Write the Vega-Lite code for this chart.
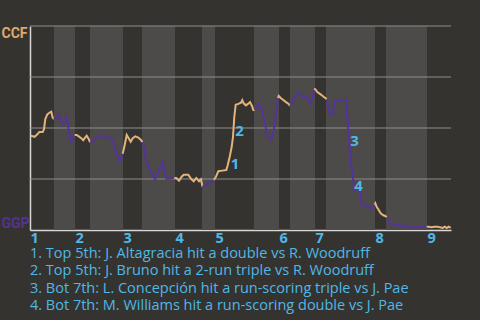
{
  "$schema": "https://vega.github.io/schema/vega-lite/v6.json",
  "width": 421,
  "height": 204,
  "autosize": {"type": "none"},
  "padding": {"left": 30, "top": 26, "right": 29, "bottom": 90},
  "background": "#353330",
  "config": {"view": {"stroke": null}, "font": "Open Sans"},
  "title": {
    "text": [
      "1. Top 5th: J. Altagracia hit a double vs R. Woodruff",
      "2. Top 5th: J. Bruno hit a 2-run triple vs R. Woodruff",
      "3. Bot 7th: L. Concepción hit a run-scoring triple vs J. Pae",
      "4. Bot 7th: M. Williams hit a run-scoring double vs J. Pae"
    ],
    "orient": "bottom",
    "anchor": "start",
    "frame": "group",
    "fontSize": 14.5,
    "fontWeight": "normal",
    "font": "Open Sans",
    "color": "#4fb8e8",
    "lineHeight": 17.6,
    "offset": 2
  },
  "datasets": {
    "bands": [
      {"half": "B1", "start": 24, "end": 45},
      {"half": "B2", "start": 60, "end": 93},
      {"half": "B3", "start": 112, "end": 145},
      {"half": "B4", "start": 172, "end": 185},
      {"half": "B5", "start": 224, "end": 249},
      {"half": "B6", "start": 260, "end": 285},
      {"half": "B7", "start": 296, "end": 345},
      {"half": "B8", "start": 356, "end": 397}
    ],
    "grid": [{"v": 0.25}, {"v": 0.5}, {"v": 0.75}, {"v": 1}],
    "events": [
      {"label": "1", "t": 199.7, "wp": 0.324},
      {"label": "2", "t": 204.3, "wp": 0.483},
      {"label": "3", "t": 319.3, "wp": 0.436},
      {"label": "4", "t": 323.3, "wp": 0.217}
    ],
    "wp": [
      {"half": "T1", "team": "CCF", "t": 0.7, "wp": 0.462},
      {"half": "T1", "team": "CCF", "t": 4.7, "wp": 0.457},
      {"half": "T1", "team": "CCF", "t": 7.3, "wp": 0.469},
      {"half": "T1", "team": "CCF", "t": 9.3, "wp": 0.48},
      {"half": "T1", "team": "CCF", "t": 12.7, "wp": 0.48},
      {"half": "T1", "team": "CCF", "t": 14, "wp": 0.494},
      {"half": "T1", "team": "CCF", "t": 15.3, "wp": 0.544},
      {"half": "T1", "team": "CCF", "t": 17.3, "wp": 0.567},
      {"half": "T1", "team": "CCF", "t": 20, "wp": 0.577},
      {"half": "T1", "team": "CCF", "t": 21.3, "wp": 0.58},
      {"half": "T1", "team": "CCF", "t": 22.7, "wp": 0.55},
      {"half": "T1", "team": "CCF", "t": 24, "wp": 0.544},
      {"half": "B1", "team": "GGP", "t": 24, "wp": 0.544},
      {"half": "B1", "team": "GGP", "t": 26, "wp": 0.554},
      {"half": "B1", "team": "GGP", "t": 28.7, "wp": 0.564},
      {"half": "B1", "team": "GGP", "t": 30.7, "wp": 0.538},
      {"half": "B1", "team": "GGP", "t": 32.7, "wp": 0.521},
      {"half": "B1", "team": "GGP", "t": 34.7, "wp": 0.531},
      {"half": "B1", "team": "GGP", "t": 36.7, "wp": 0.554},
      {"half": "B1", "team": "GGP", "t": 38, "wp": 0.515},
      {"half": "B1", "team": "GGP", "t": 39.3, "wp": 0.469},
      {"half": "B1", "team": "GGP", "t": 40.7, "wp": 0.436},
      {"half": "B1", "team": "GGP", "t": 42.7, "wp": 0.45},
      {"half": "B1", "team": "GGP", "t": 44.7, "wp": 0.466},
      {"half": "T2", "team": "CCF", "t": 44.7, "wp": 0.466},
      {"half": "T2", "team": "CCF", "t": 46.7, "wp": 0.466},
      {"half": "T2", "team": "CCF", "t": 48.7, "wp": 0.459},
      {"half": "T2", "team": "CCF", "t": 51.3, "wp": 0.45},
      {"half": "T2", "team": "CCF", "t": 53.3, "wp": 0.44},
      {"half": "T2", "team": "CCF", "t": 54.7, "wp": 0.45},
      {"half": "T2", "team": "CCF", "t": 56.7, "wp": 0.462},
      {"half": "T2", "team": "CCF", "t": 58.7, "wp": 0.446},
      {"half": "T2", "team": "CCF", "t": 60, "wp": 0.43},
      {"half": "B2", "team": "GGP", "t": 60, "wp": 0.43},
      {"half": "B2", "team": "GGP", "t": 62, "wp": 0.433},
      {"half": "B2", "team": "GGP", "t": 64.7, "wp": 0.446},
      {"half": "B2", "team": "GGP", "t": 67.3, "wp": 0.456},
      {"half": "B2", "team": "GGP", "t": 70, "wp": 0.466},
      {"half": "B2", "team": "GGP", "t": 73.3, "wp": 0.456},
      {"half": "B2", "team": "GGP", "t": 76.7, "wp": 0.452},
      {"half": "B2", "team": "GGP", "t": 80.7, "wp": 0.452},
      {"half": "B2", "team": "GGP", "t": 82.7, "wp": 0.436},
      {"half": "B2", "team": "GGP", "t": 84.7, "wp": 0.407},
      {"half": "B2", "team": "GGP", "t": 86.7, "wp": 0.377},
      {"half": "B2", "team": "GGP", "t": 88.7, "wp": 0.338},
      {"half": "B2", "team": "GGP", "t": 90.7, "wp": 0.351},
      {"half": "B2", "team": "GGP", "t": 92.7, "wp": 0.374},
      {"half": "T3", "team": "CCF", "t": 92.7, "wp": 0.374},
      {"half": "T3", "team": "CCF", "t": 94.7, "wp": 0.417},
      {"half": "T3", "team": "CCF", "t": 96.7, "wp": 0.466},
      {"half": "T3", "team": "CCF", "t": 98.7, "wp": 0.45},
      {"half": "T3", "team": "CCF", "t": 100.7, "wp": 0.433},
      {"half": "T3", "team": "CCF", "t": 102.7, "wp": 0.45},
      {"half": "T3", "team": "CCF", "t": 105.3, "wp": 0.459},
      {"half": "T3", "team": "CCF", "t": 108.3, "wp": 0.453},
      {"half": "T3", "team": "CCF", "t": 111, "wp": 0.441},
      {"half": "T3", "team": "CCF", "t": 112.5, "wp": 0.431},
      {"half": "B3", "team": "GGP", "t": 112.5, "wp": 0.431},
      {"half": "B3", "team": "GGP", "t": 113.7, "wp": 0.408},
      {"half": "B3", "team": "GGP", "t": 115.7, "wp": 0.353},
      {"half": "B3", "team": "GGP", "t": 117.7, "wp": 0.317},
      {"half": "B3", "team": "GGP", "t": 120.3, "wp": 0.294},
      {"half": "B3", "team": "GGP", "t": 123, "wp": 0.268},
      {"half": "B3", "team": "GGP", "t": 125, "wp": 0.249},
      {"half": "B3", "team": "GGP", "t": 127.7, "wp": 0.278},
      {"half": "B3", "team": "GGP", "t": 130.3, "wp": 0.307},
      {"half": "B3", "team": "GGP", "t": 133, "wp": 0.333},
      {"half": "B3", "team": "GGP", "t": 134.3, "wp": 0.294},
      {"half": "B3", "team": "GGP", "t": 136.3, "wp": 0.251},
      {"half": "B3", "team": "GGP", "t": 139.7, "wp": 0.251},
      {"half": "B3", "team": "GGP", "t": 144.3, "wp": 0.255},
      {"half": "T4", "team": "CCF", "t": 144.3, "wp": 0.255},
      {"half": "T4", "team": "CCF", "t": 146.3, "wp": 0.255},
      {"half": "T4", "team": "CCF", "t": 149, "wp": 0.242},
      {"half": "T4", "team": "CCF", "t": 151.7, "wp": 0.261},
      {"half": "T4", "team": "CCF", "t": 153.7, "wp": 0.271},
      {"half": "T4", "team": "CCF", "t": 158.3, "wp": 0.271},
      {"half": "T4", "team": "CCF", "t": 161, "wp": 0.251},
      {"half": "T4", "team": "CCF", "t": 163.7, "wp": 0.239},
      {"half": "T4", "team": "CCF", "t": 166.3, "wp": 0.255},
      {"half": "T4", "team": "CCF", "t": 169, "wp": 0.239},
      {"half": "T4", "team": "CCF", "t": 171, "wp": 0.249},
      {"half": "T4", "team": "CCF", "t": 172.5, "wp": 0.212},
      {"half": "B4", "team": "GGP", "t": 172.5, "wp": 0.212},
      {"half": "B4", "team": "GGP", "t": 176.3, "wp": 0.222},
      {"half": "B4", "team": "GGP", "t": 179.7, "wp": 0.232},
      {"half": "B4", "team": "GGP", "t": 183.7, "wp": 0.245},
      {"half": "T5", "team": "CCF", "t": 183.7, "wp": 0.245},
      {"half": "T5", "team": "CCF", "t": 185.7, "wp": 0.258},
      {"half": "T5", "team": "CCF", "t": 188.3, "wp": 0.288},
      {"half": "T5", "team": "CCF", "t": 192.3, "wp": 0.291},
      {"half": "T5", "team": "CCF", "t": 196.3, "wp": 0.294},
      {"half": "T5", "team": "CCF", "t": 197.7, "wp": 0.317},
      {"half": "T5", "team": "CCF", "t": 199.7, "wp": 0.359},
      {"half": "T5", "team": "CCF", "t": 201.7, "wp": 0.408},
      {"half": "T5", "team": "CCF", "t": 203, "wp": 0.457},
      {"half": "T5", "team": "CCF", "t": 204.3, "wp": 0.555},
      {"half": "T5", "team": "CCF", "t": 205.7, "wp": 0.614},
      {"half": "T5", "team": "CCF", "t": 208.3, "wp": 0.618},
      {"half": "T5", "team": "CCF", "t": 211, "wp": 0.624},
      {"half": "T5", "team": "CCF", "t": 212.3, "wp": 0.637},
      {"half": "T5", "team": "CCF", "t": 213.7, "wp": 0.621},
      {"half": "T5", "team": "CCF", "t": 216, "wp": 0.611},
      {"half": "T5", "team": "CCF", "t": 218, "wp": 0.618},
      {"half": "T5", "team": "CCF", "t": 220, "wp": 0.627},
      {"half": "T5", "team": "CCF", "t": 222, "wp": 0.608},
      {"half": "T5", "team": "CCF", "t": 223.3, "wp": 0.588},
      {"half": "T5", "team": "CCF", "t": 224.7, "wp": 0.588},
      {"half": "B5", "team": "GGP", "t": 224.7, "wp": 0.588},
      {"half": "B5", "team": "GGP", "t": 226.7, "wp": 0.604},
      {"half": "B5", "team": "GGP", "t": 228.7, "wp": 0.618},
      {"half": "B5", "team": "GGP", "t": 230.7, "wp": 0.601},
      {"half": "B5", "team": "GGP", "t": 232.7, "wp": 0.578},
      {"half": "B5", "team": "GGP", "t": 234, "wp": 0.549},
      {"half": "B5", "team": "GGP", "t": 235.3, "wp": 0.513},
      {"half": "B5", "team": "GGP", "t": 236.7, "wp": 0.48},
      {"half": "B5", "team": "GGP", "t": 238.7, "wp": 0.454},
      {"half": "B5", "team": "GGP", "t": 240.7, "wp": 0.441},
      {"half": "B5", "team": "GGP", "t": 242.7, "wp": 0.464},
      {"half": "B5", "team": "GGP", "t": 244, "wp": 0.497},
      {"half": "B5", "team": "GGP", "t": 245.3, "wp": 0.549},
      {"half": "B5", "team": "GGP", "t": 246.7, "wp": 0.592},
      {"half": "B5", "team": "GGP", "t": 248, "wp": 0.647},
      {"half": "T6", "team": "CCF", "t": 248, "wp": 0.647},
      {"half": "T6", "team": "CCF", "t": 248.7, "wp": 0.657},
      {"half": "T6", "team": "CCF", "t": 250.7, "wp": 0.647},
      {"half": "T6", "team": "CCF", "t": 253.3, "wp": 0.637},
      {"half": "T6", "team": "CCF", "t": 256, "wp": 0.627},
      {"half": "T6", "team": "CCF", "t": 258.7, "wp": 0.618},
      {"half": "T6", "team": "CCF", "t": 260, "wp": 0.608},
      {"half": "B6", "team": "GGP", "t": 260, "wp": 0.608},
      {"half": "B6", "team": "GGP", "t": 262, "wp": 0.621},
      {"half": "B6", "team": "GGP", "t": 264, "wp": 0.644},
      {"half": "B6", "team": "GGP", "t": 266, "wp": 0.66},
      {"half": "B6", "team": "GGP", "t": 268.7, "wp": 0.676},
      {"half": "B6", "team": "GGP", "t": 271.3, "wp": 0.657},
      {"half": "B6", "team": "GGP", "t": 274.7, "wp": 0.653},
      {"half": "B6", "team": "GGP", "t": 276.7, "wp": 0.653},
      {"half": "B6", "team": "GGP", "t": 278.7, "wp": 0.634},
      {"half": "B6", "team": "GGP", "t": 280.7, "wp": 0.621},
      {"half": "B6", "team": "GGP", "t": 282.7, "wp": 0.653},
      {"half": "B6", "team": "GGP", "t": 284, "wp": 0.693},
      {"half": "T7", "team": "CCF", "t": 284, "wp": 0.693},
      {"half": "T7", "team": "CCF", "t": 285.3, "wp": 0.69},
      {"half": "T7", "team": "CCF", "t": 287.3, "wp": 0.676},
      {"half": "T7", "team": "CCF", "t": 290, "wp": 0.667},
      {"half": "T7", "team": "CCF", "t": 292.7, "wp": 0.657},
      {"half": "T7", "team": "CCF", "t": 295.3, "wp": 0.647},
      {"half": "T7", "team": "CCF", "t": 296.7, "wp": 0.641},
      {"half": "B7", "team": "GGP", "t": 296.7, "wp": 0.641},
      {"half": "B7", "team": "GGP", "t": 297.3, "wp": 0.624},
      {"half": "B7", "team": "GGP", "t": 298.7, "wp": 0.592},
      {"half": "B7", "team": "GGP", "t": 300, "wp": 0.565},
      {"half": "B7", "team": "GGP", "t": 302, "wp": 0.565},
      {"half": "B7", "team": "GGP", "t": 303.3, "wp": 0.585},
      {"half": "B7", "team": "GGP", "t": 304.7, "wp": 0.627},
      {"half": "B7", "team": "GGP", "t": 305.3, "wp": 0.636},
      {"half": "B7", "team": "GGP", "t": 308, "wp": 0.636},
      {"half": "B7", "team": "GGP", "t": 312, "wp": 0.636},
      {"half": "B7", "team": "GGP", "t": 316.5, "wp": 0.636},
      {"half": "B7", "team": "GGP", "t": 316.7, "wp": 0.552},
      {"half": "B7", "team": "GGP", "t": 318, "wp": 0.549},
      {"half": "B7", "team": "GGP", "t": 318.2, "wp": 0.474},
      {"half": "B7", "team": "GGP", "t": 319.3, "wp": 0.471},
      {"half": "B7", "team": "GGP", "t": 319.5, "wp": 0.392},
      {"half": "B7", "team": "GGP", "t": 320.7, "wp": 0.382},
      {"half": "B7", "team": "GGP", "t": 320.9, "wp": 0.31},
      {"half": "B7", "team": "GGP", "t": 322, "wp": 0.307},
      {"half": "B7", "team": "GGP", "t": 322.2, "wp": 0.278},
      {"half": "B7", "team": "GGP", "t": 323.3, "wp": 0.245},
      {"half": "B7", "team": "GGP", "t": 324, "wp": 0.196},
      {"half": "B7", "team": "GGP", "t": 326, "wp": 0.202},
      {"half": "B7", "team": "GGP", "t": 328.7, "wp": 0.202},
      {"half": "B7", "team": "GGP", "t": 330, "wp": 0.18},
      {"half": "B7", "team": "GGP", "t": 330.7, "wp": 0.147},
      {"half": "B7", "team": "GGP", "t": 332, "wp": 0.121},
      {"half": "B7", "team": "GGP", "t": 336, "wp": 0.118},
      {"half": "B7", "team": "GGP", "t": 338.7, "wp": 0.114},
      {"half": "B7", "team": "GGP", "t": 340.7, "wp": 0.104},
      {"half": "B7", "team": "GGP", "t": 343.3, "wp": 0.114},
      {"half": "B7", "team": "GGP", "t": 344.7, "wp": 0.124},
      {"half": "T8", "team": "CCF", "t": 344.7, "wp": 0.124},
      {"half": "T8", "team": "CCF", "t": 345.3, "wp": 0.131},
      {"half": "T8", "team": "CCF", "t": 346.7, "wp": 0.114},
      {"half": "T8", "team": "CCF", "t": 348.7, "wp": 0.098},
      {"half": "T8", "team": "CCF", "t": 350.7, "wp": 0.082},
      {"half": "T8", "team": "CCF", "t": 353.3, "wp": 0.072},
      {"half": "T8", "team": "CCF", "t": 355.3, "wp": 0.069},
      {"half": "T8", "team": "CCF", "t": 356.7, "wp": 0.062},
      {"half": "B8", "team": "GGP", "t": 356.7, "wp": 0.062},
      {"half": "B8", "team": "GGP", "t": 358, "wp": 0.049},
      {"half": "B8", "team": "GGP", "t": 360, "wp": 0.033},
      {"half": "B8", "team": "GGP", "t": 363.3, "wp": 0.029},
      {"half": "B8", "team": "GGP", "t": 368, "wp": 0.029},
      {"half": "B8", "team": "GGP", "t": 371.3, "wp": 0.023},
      {"half": "B8", "team": "GGP", "t": 375.3, "wp": 0.016},
      {"half": "B8", "team": "GGP", "t": 378.7, "wp": 0.013},
      {"half": "B8", "team": "GGP", "t": 383.3, "wp": 0.013},
      {"half": "B8", "team": "GGP", "t": 388.7, "wp": 0.013},
      {"half": "B8", "team": "GGP", "t": 392.7, "wp": 0.016},
      {"half": "B8", "team": "GGP", "t": 396.7, "wp": 0.016},
      {"half": "T9", "team": "CCF", "t": 396.7, "wp": 0.016},
      {"half": "T9", "team": "CCF", "t": 398.7, "wp": 0.016},
      {"half": "T9", "team": "CCF", "t": 401.3, "wp": 0.013},
      {"half": "T9", "team": "CCF", "t": 404.7, "wp": 0.016},
      {"half": "T9", "team": "CCF", "t": 408, "wp": 0.016},
      {"half": "T9", "team": "CCF", "t": 410, "wp": 0.013},
      {"half": "T9", "team": "CCF", "t": 412.7, "wp": 0.01},
      {"half": "T9", "team": "CCF", "t": 414.7, "wp": 0.016},
      {"half": "T9", "team": "CCF", "t": 416.7, "wp": 0.01},
      {"half": "T9", "team": "CCF", "t": 418.7, "wp": 0.016},
      {"half": "T9", "team": "CCF", "t": 420.7, "wp": 0.01}
    ]
  },
  "layer": [
    {
      "data": {"name": "bands"},
      "mark": {"type": "rect", "color": "#4c4b49"},
      "encoding": {
        "x": {
          "field": "start",
          "type": "quantitative",
          "scale": {"domain": [0, 421], "nice": false, "zero": false},
          "axis": {
            "title": null,
            "values": [0, 45, 93, 145, 185, 249, 285, 345, 397],
            "labelExpr": "indexof([0, 45, 93, 145, 185, 249, 285, 345, 397], datum.value) + 1",
            "labelAlign": "left",
            "labelFlush": false,
            "labelFont": "Open Sans",
            "labelFontSize": 14.5,
            "labelFontWeight": "bold",
            "labelColor": "#4fb8e8",
            "labelPadding": 1,
            "ticks": false,
            "tickSize": 0,
            "grid": false,
            "domainColor": "#d8d8d8",
            "domainWidth": 1.5
          }
        },
        "x2": {"field": "end"}
      }
    },
    {
      "data": {"name": "grid"},
      "mark": {"type": "rule", "color": "#8e8e8c", "strokeWidth": 1},
      "encoding": {
        "y": {"field": "v", "type": "quantitative", "scale": {"domain": [0, 1], "nice": false}}
      }
    },
    {
      "data": {"name": "wp"},
      "mark": {"type": "line", "strokeWidth": 2, "interpolate": "linear"},
      "encoding": {
        "x": {"field": "t", "type": "quantitative"},
        "y": {
          "field": "wp",
          "type": "quantitative",
          "axis": {
            "title": null,
            "values": [0, 1],
            "labelExpr": "datum.value == 1 ? 'CCF' : 'GGP'",
            "labelFlush": true,
            "labelAlign": "left",
            "labelPadding": 29,
            "labelFont": "Roboto",
            "labelFontSize": 14,
            "labelFontWeight": "bold",
            "labelColor": {"condition": {"test": "datum.value == 1", "value": "#dcaa6c"}, "value": "#553292"},
            "ticks": false,
            "tickSize": 0,
            "grid": false,
            "domainColor": "#d8d8d8",
            "domainWidth": 1.5
          }
        },
        "detail": {"field": "half"},
        "color": {
          "field": "team",
          "type": "nominal",
          "scale": {"domain": ["CCF", "GGP"], "range": ["#e2b47c", "#56339a"]},
          "legend": null
        },
        "order": {"field": "t", "type": "quantitative"}
      }
    },
    {
      "data": {"name": "events"},
      "mark": {"type": "text", "align": "left", "baseline": "middle", "dx": 1, "font": "Open Sans", "fontSize": 15, "fontWeight": "bold", "color": "#4fb8e8"},
      "encoding": {
        "x": {"field": "t", "type": "quantitative"},
        "y": {"field": "wp", "type": "quantitative"},
        "text": {"field": "label"}
      }
    }
  ]
}
